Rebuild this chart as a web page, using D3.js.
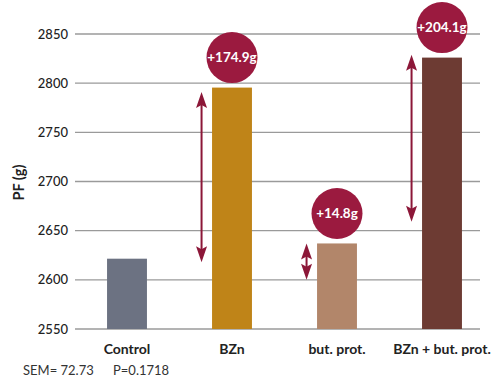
<!DOCTYPE html>
<html><head><meta charset="utf-8">
<script src="https://cdn.jsdelivr.net/npm/d3@7/dist/d3.min.js"></script>
<style>body{margin:0;background:#fff}svg{display:block}text{font-family:Lato,"Open Sans",sans-serif}</style>
</head><body><svg id="c" width="500" height="383"></svg>
<script>
const categories = ["Control", "BZn", "but. prot.", "BZn + but. prot."];
const values = [2621.5, 2795.5, 2637, 2826];
const barColors = ["#6c7282", "#bf8418", "#b2866a", "#6d3b33"];
const gainLabels = [null, "+174.9g", "+14.8g", "+204.1g"];
const arrowLow = [null, 2618, 2600, 2659];
const arrowHigh = [null, 2791, 2637, 2829];
const yTicks = [2550, 2600, 2650, 2700, 2750, 2800, 2850];
const yLabel = "PF (g)";
const footnote = ["SEM= 72.73", "P=0.1718"];

const svg = d3.select("#c");
const y = d3.scaleLinear().domain([2550, 2850]).range([329, 34]);
const x = d3.scaleBand().domain(categories).range([74.5, 494.5]).paddingInner(0.62).paddingOuter(0.31);
const red = "#8c1738";

// gridlines
svg.append("g").selectAll("line").data(yTicks).join("line")
  .attr("x1", 75).attr("x2", 480).attr("y1", d => y(d)).attr("y2", d => y(d))
  .attr("stroke", "#9a9a9a").attr("stroke-width", 1.4);

// y tick labels
svg.append("g").selectAll("text").data(yTicks).join("text")
  .attr("x", 68).attr("y", d => y(d)).attr("dy", "0.35em")
  .attr("text-anchor", "end").attr("font-size", 13).attr("font-weight", 500).attr("fill", "#222")
  .text(d => d);

svg.append("text").attr("transform", `translate(24,${y(2700) + 1}) rotate(-90)`)
  .attr("text-anchor", "middle").attr("font-size", 14.5).attr("font-weight", 700).attr("fill", "#222")
  .text(yLabel);

// bars
svg.append("g").selectAll("rect").data(categories).join("rect")
  .attr("x", d => x(d)).attr("width", x.bandwidth())
  .attr("y", (d, i) => y(values[i])).attr("height", (d, i) => y(2550) - y(values[i]))
  .attr("fill", (d, i) => barColors[i]);

// category labels
svg.append("g").selectAll("text").data(categories).join("text")
  .attr("x", d => x(d) + x.bandwidth() / 2).attr("y", 354)
  .attr("text-anchor", "middle").attr("font-size", 14).attr("font-weight", 700).attr("fill", "#222")
  .text(d => d);

// double-headed arrows
categories.forEach((c, i) => {
  if (arrowLow[i] == null) return;
  const ax = x(c) - 10.5;
  const yt = y(arrowHigh[i]), yb = y(arrowLow[i]);
  svg.append("line").attr("x1", ax).attr("x2", ax)
    .attr("y1", yt + 10).attr("y2", yb - 10)
    .attr("stroke", red).attr("stroke-width", 2);
  svg.append("path").attr("fill", red)
    .attr("d", `M${ax},${yt} L${ax - 5.5},${yt + 16} L${ax},${yt + 13} L${ax + 5.5},${yt + 16} Z`);
  svg.append("path").attr("fill", red)
    .attr("d", `M${ax},${yb} L${ax - 5.5},${yb - 16} L${ax},${yb - 13} L${ax + 5.5},${yb - 16} Z`);
});

// gain circles
categories.forEach((c, i) => {
  if (!gainLabels[i]) return;
  const cx = x(c) + x.bandwidth() / 2, cy = y(values[i]) - 30;
  svg.append("circle").attr("cx", cx).attr("cy", cy).attr("r", 25.5).attr("fill", "#9b1a3f");
  svg.append("text").attr("x", cx).attr("y", cy).attr("dy", "0.35em").attr("text-anchor", "middle")
    .attr("font-size", 13.5).attr("font-weight", 700).attr("fill", "#fff").text(gainLabels[i]);
});

// footnote
svg.append("text").attr("x", 23).attr("y", 375).attr("font-size", 13).attr("fill", "#333").text(footnote[0]);
svg.append("text").attr("x", 113).attr("y", 375).attr("font-size", 13).attr("fill", "#333").text(footnote[1]);
</script></body></html>
